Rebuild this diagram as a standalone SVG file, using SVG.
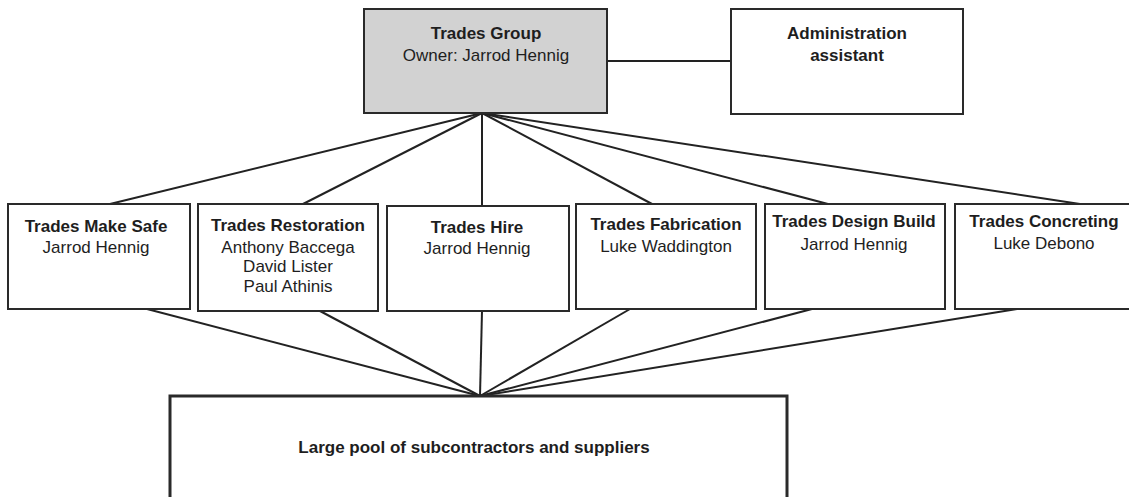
<svg xmlns="http://www.w3.org/2000/svg" width="1129" height="497" viewBox="0 0 1129 497">
<style>
.box{fill:#fff;stroke:#2a2a2a;stroke-width:2}
.grey{fill:#d2d2d2}
.big{stroke-width:3}
.conn line{stroke:#222;stroke-width:2}
text{font-family:"Liberation Sans",Arial,sans-serif;font-size:17px;fill:#1e1e1e;text-anchor:middle}
.b{font-weight:bold}
</style>
<rect width="1129" height="497" fill="#fff"/>
<g class="conn">
<line x1="607" y1="61" x2="731" y2="61"/>
<line x1="482" y1="113" x2="110" y2="204"/>
<line x1="482" y1="113" x2="303" y2="204"/>
<line x1="482" y1="113" x2="482" y2="206"/>
<line x1="482" y1="113" x2="652" y2="204"/>
<line x1="482" y1="113" x2="828" y2="204"/>
<line x1="482" y1="113" x2="1080" y2="204"/>
<line x1="147" y1="309" x2="480" y2="396"/>
<line x1="320" y1="311" x2="480" y2="396"/>
<line x1="482" y1="311" x2="480" y2="396"/>
<line x1="630" y1="309" x2="480" y2="396"/>
<line x1="812" y1="309" x2="480" y2="396"/>
<line x1="1017" y1="309" x2="480" y2="396"/>
</g>
<g id="trades-group">
<rect class="box grey" x="364" y="9" width="243" height="104"/>
<text class="b" x="486" y="39">Trades Group</text>
<text x="486" y="61">Owner: Jarrod Hennig</text>
</g>
<g id="admin">
<rect class="box" x="731" y="9" width="232" height="105"/>
<text class="b" x="847" y="39">Administration</text>
<text class="b" x="847" y="61">assistant</text>
</g>
<g id="make-safe">
<rect class="box" x="8" y="204" width="182" height="105"/>
<text class="b" x="96" y="232">Trades Make Safe</text>
<text x="96" y="253">Jarrod Hennig</text>
</g>
<g id="restoration">
<rect class="box" x="198" y="204" width="180" height="107"/>
<text class="b" x="288" y="231">Trades Restoration</text>
<text x="288" y="253">Anthony Baccega</text>
<text x="288" y="272">David Lister</text>
<text x="288" y="292">Paul Athinis</text>
</g>
<g id="hire">
<rect class="box" x="387" y="206" width="182" height="105"/>
<text class="b" x="477" y="233">Trades Hire</text>
<text x="477" y="254">Jarrod Hennig</text>
</g>
<g id="fabrication">
<rect class="box" x="576" y="204" width="180" height="105"/>
<text class="b" x="666" y="230">Trades Fabrication</text>
<text x="666" y="252">Luke Waddington</text>
</g>
<g id="design-build">
<rect class="box" x="765" y="204" width="180" height="105"/>
<text class="b" x="854" y="227">Trades Design Build</text>
<text x="854" y="250">Jarrod Hennig</text>
</g>
<g id="concreting">
<rect class="box" x="955" y="204" width="178" height="105"/>
<text class="b" x="1044" y="227">Trades Concreting</text>
<text x="1044" y="249">Luke Debono</text>
</g>
<g id="pool">
<rect class="box big" x="170" y="396" width="617" height="110"/>
<text class="b" x="474" y="453">Large pool of subcontractors and suppliers</text>
</g>
</svg>
